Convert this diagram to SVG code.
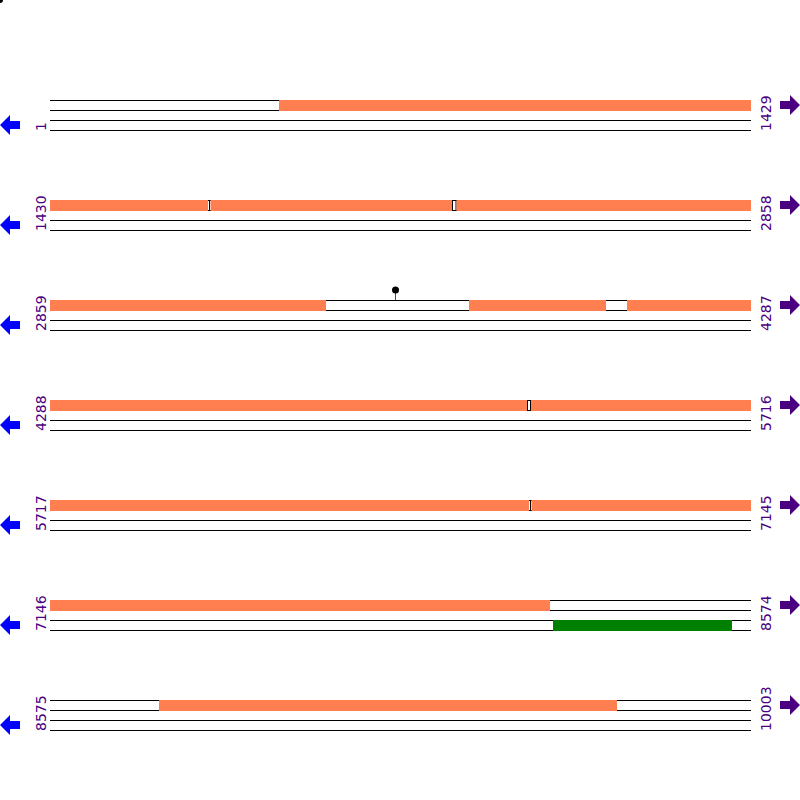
<svg xmlns="http://www.w3.org/2000/svg" width="800" height="800" viewBox="0 0 800 800">
<style>
.ln{stroke:#000;stroke-width:1}
.seq{fill:#FF7F50}
.gap{fill:#fff;stroke:#000;stroke-width:1}
.tick{stroke:#000;stroke-width:1}
.lbl{font-family:"DejaVu Sans",sans-serif;font-size:14px;fill:#4B0082}
.la{fill:#0000FF}
.ra{fill:#4B0082}
</style>
<defs>
<g id="lines">
<line class="ln" x1="50" y1="100.5" x2="751" y2="100.5"/>
<line class="ln" x1="50" y1="110.5" x2="751" y2="110.5"/>
<line class="ln" x1="50" y1="120.5" x2="751" y2="120.5"/>
<line class="ln" x1="50" y1="130.5" x2="751" y2="130.5"/>
</g>
<polygon id="larrow" points="0,125 10,115 10,121 20,121 20,129 10,129 10,135"/>
<polygon id="rarrow" points="800,105 790,95 790,101 780,101 780,109 790,109 790,115"/>
</defs>
<circle cx="0" cy="0" r="3" fill="#000"/>

<g id="row1">
<use href="#lines"/>
<rect class="seq" x="279" y="100" width="472" height="11"/>
<text class="lbl" transform="translate(46,131) rotate(-90)">1</text>
<text class="lbl" transform="translate(771,131) rotate(-90)">1429</text>
<use href="#larrow" class="la"/>
<use href="#rarrow" class="ra"/>
</g>

<g id="row2" transform="translate(0,100)">
<use href="#lines"/>
<rect class="gap" x="452.5" y="100.5" width="3.5" height="10"/>
<rect class="seq" x="50" y="100" width="158" height="11"/>
<line class="tick" x1="209.5" y1="100" x2="209.5" y2="111"/>
<rect class="seq" x="210.5" y="100" width="241.5" height="11"/>
<rect class="seq" x="456.5" y="100" width="294.5" height="11"/>
<text class="lbl" transform="translate(46,131) rotate(-90)">1430</text>
<text class="lbl" transform="translate(771,131) rotate(-90)">2858</text>
<use href="#larrow" class="la"/>
<use href="#rarrow" class="ra"/>
</g>

<g id="row3" transform="translate(0,200)">
<use href="#lines"/>
<rect class="seq" x="50" y="100" width="276" height="11"/>
<rect class="seq" x="469" y="100" width="137" height="11"/>
<rect class="seq" x="627" y="100" width="124" height="11"/>
<line x1="395.5" y1="92" x2="395.5" y2="100" stroke="#FF0000" stroke-width="1"/>
<circle cx="395.5" cy="90" r="3.5" fill="#000"/>
<text class="lbl" transform="translate(46,131) rotate(-90)">2859</text>
<text class="lbl" transform="translate(771,131) rotate(-90)">4287</text>
<use href="#larrow" class="la"/>
<use href="#rarrow" class="ra"/>
</g>

<g id="row4" transform="translate(0,300)">
<use href="#lines"/>
<rect class="gap" x="527.5" y="100.5" width="3" height="10"/>
<rect class="seq" x="50" y="100" width="477" height="11"/>
<rect class="seq" x="531" y="100" width="220" height="11"/>
<text class="lbl" transform="translate(46,131) rotate(-90)">4288</text>
<text class="lbl" transform="translate(771,131) rotate(-90)">5716</text>
<use href="#larrow" class="la"/>
<use href="#rarrow" class="ra"/>
</g>

<g id="row5" transform="translate(0,400)">
<use href="#lines"/>
<rect class="seq" x="50" y="100" width="479" height="11"/>
<line class="tick" x1="530.5" y1="100" x2="530.5" y2="111"/>
<rect class="seq" x="531.5" y="100" width="219.5" height="11"/>
<text class="lbl" transform="translate(46,131) rotate(-90)">5717</text>
<text class="lbl" transform="translate(771,131) rotate(-90)">7145</text>
<use href="#larrow" class="la"/>
<use href="#rarrow" class="ra"/>
</g>

<g id="row6" transform="translate(0,500)">
<use href="#lines"/>
<rect class="seq" x="50" y="100" width="500" height="11"/>
<rect x="553" y="120" width="179" height="11" fill="#008000"/>
<text class="lbl" transform="translate(46,131) rotate(-90)">7146</text>
<text class="lbl" transform="translate(771,131) rotate(-90)">8574</text>
<use href="#larrow" class="la"/>
<use href="#rarrow" class="ra"/>
</g>

<g id="row7" transform="translate(0,600)">
<use href="#lines"/>
<rect class="seq" x="159" y="100" width="458" height="11"/>
<text class="lbl" transform="translate(46,131) rotate(-90)">8575</text>
<text class="lbl" transform="translate(771,131) rotate(-90)">10003</text>
<use href="#larrow" class="la"/>
<use href="#rarrow" class="ra"/>
</g>
</svg>
